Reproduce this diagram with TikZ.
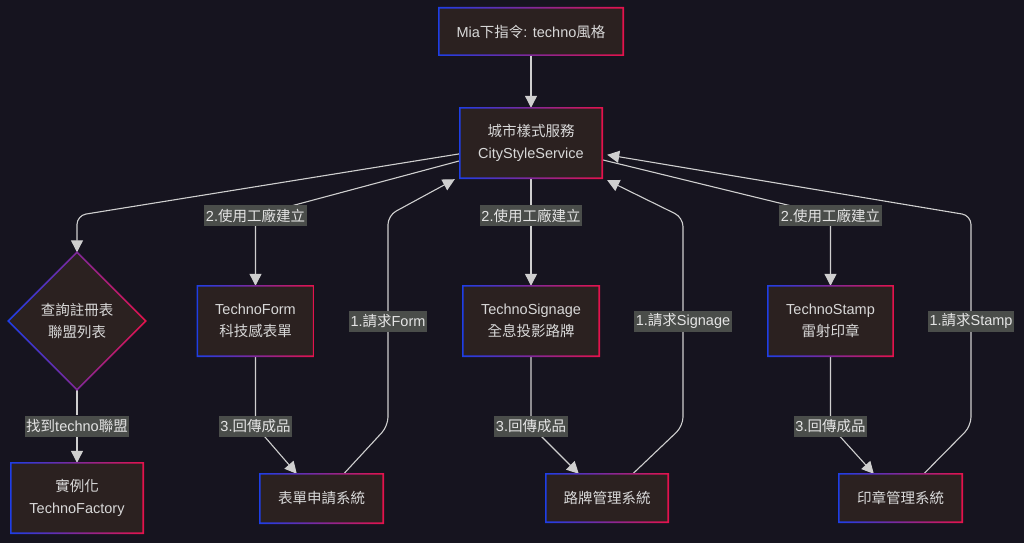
\documentclass[tikz,border=0pt]{standalone}
\usepackage{fontspec}
\setmainfont{Liberation Sans}
\newfontfamily\cjk{Noto Sans CJK TC}
\usetikzlibrary{arrows.meta,shapes.geometric,calc}
\definecolor{bgc}{HTML}{16141F}
\definecolor{nodefill}{HTML}{2B2120}
\definecolor{ntext}{HTML}{D8D8D8}
\definecolor{lblfill}{HTML}{4A4D4A}
\definecolor{ltext}{HTML}{E4E4E4}
\definecolor{edgecol}{HTML}{CFCFCF}
\definecolor{gblue}{HTML}{1E3EE6}
\definecolor{gred}{HTML}{E5124C}
\pgfdeclarelayer{bg}
\pgfdeclarelayer{edges}
\pgfsetlayers{bg,edges,main}
\newcommand\myframe[1]{%
  \shade[left color=gblue,right color=gred,even odd rule]
    ($(#1.south west)+(-0.8,0.8)$) rectangle ($(#1.north east)+(0.8,-0.8)$)
    ($(#1.south west)+(0.8,-0.8)$) rectangle ($(#1.north east)+(-0.8,0.8)$);}
\newcommand\mydframe[1]{%
  \shade[left color=gblue,right color=gred,even odd rule]
    ($(#1.north)+(0,-1.1)$) -- ($(#1.east)+(1.1,0)$) -- ($(#1.south)+(0,1.1)$) -- ($(#1.west)+(-1.1,0)$) -- cycle
    ($(#1.north)+(0,1.1)$) -- ($(#1.east)+(-1.1,0)$) -- ($(#1.south)+(0,-1.1)$) -- ($(#1.west)+(1.1,0)$) -- cycle;}
\tikzset{
  box/.style={fill=nodefill, text=ntext, align=center, inner sep=0pt,
    font=\fontsize{14.5}{22}\selectfont},
  lbl/.style={fill=lblfill, text=ltext, inner xsep=1.5pt, inner ysep=0pt,
    minimum height=21pt, font=\fontsize{14.5}{17}\selectfont},
  edge/.style={draw=edgecol, line width=1.1pt, rounded corners=9pt},
  arr/.style={edge, -{Triangle[length=12pt,width=12pt]}},
}
\begin{document}
\begin{tikzpicture}[x=1pt,y=-1pt]
\begin{pgfonlayer}{bg}
\fill[bgc] (0,0) rectangle (1024,543);
\end{pgfonlayer}
\useasboundingbox (0,0) rectangle (1024,543);

% nodes
\node[box, minimum width=184pt, minimum height=47pt] (top) at (531,31.5) {Mia{\cjk 下指令}: techno{\cjk 風格}};
\node[box, minimum width=142pt, minimum height=70pt] (city) at (531,143) {{\cjk 城市樣式服務}\\CityStyleService};
\node[box, shape=diamond, minimum width=137pt, minimum height=137pt] (dia) at (77,321) {{\cjk 查詢註冊表}\\{\cjk 聯盟列表}};
\node[box, minimum width=132pt, minimum height=70pt] (fac) at (77,498) {{\cjk 實例化}\\TechnoFactory};
\node[box, minimum width=116pt, minimum height=70pt] (form) at (255.5,321) {TechnoForm\\{\cjk 科技感表單}};
\node[box, minimum width=136pt, minimum height=70pt] (sig) at (531,321) {TechnoSignage\\{\cjk 全息投影路牌}};
\node[box, minimum width=125pt, minimum height=70pt] (stamp) at (830.5,321) {TechnoStamp\\{\cjk 雷射印章}};
\node[box, minimum width=123pt, minimum height=49pt] (sys1) at (321.5,498.5) {{\cjk 表單申請系統}};
\node[box, minimum width=122pt, minimum height=48pt] (sys2) at (607,498) {{\cjk 路牌管理系統}};
\node[box, minimum width=123pt, minimum height=48pt] (sys3) at (900.5,498) {{\cjk 印章管理系統}};

\myframe{top}\myframe{city}\myframe{fac}\myframe{form}\myframe{sig}\myframe{stamp}
\myframe{sys1}\myframe{sys2}\myframe{sys3}
\mydframe{dia}

% edge labels
\node[lbl] (lf) at (77,426) {{\cjk 找到}techno{\cjk 聯盟}};
\node[lbl] (l2a) at (255.5,215.5) {2.{\cjk 使用工廠建立}};
\node[lbl] (l2b) at (531,215.5) {2.{\cjk 使用工廠建立}};
\node[lbl] (l2c) at (830.5,215.5) {2.{\cjk 使用工廠建立}};
\node[lbl] (l3a) at (255.5,426) {3.{\cjk 回傳成品}};
\node[lbl] (l3b) at (531,426) {3.{\cjk 回傳成品}};
\node[lbl] (l3c) at (830.5,426) {3.{\cjk 回傳成品}};
\node[lbl] (l1a) at (388,321) {1.{\cjk 請求}Form};
\node[lbl] (l1b) at (683,321) {1.{\cjk 請求}Signage};
\node[lbl] (l1c) at (971,321) {1.{\cjk 請求}Stamp};

% edges
\begin{pgfonlayer}{edges}
\draw[arr] (top.south) -- (city.north);
\draw[arr] ($(city.north west)+(0,46)$) -- (dia.north |- l2a) -- (dia.north);
\draw[arr] (dia.south) -- (lf) -- (fac.north);
\draw[arr] ($(city.north west)+(0,53)$) -- (l2a.center) -- (form.north);
\draw[arr] (city.south) -- (l2b) -- (sig.north);
\draw[arr] ($(city.north east)+(0,52)$) -- (l2c.center) -- (stamp.north);
\draw[arr] (form.south) -- (l3a.center) -- ($(sys1.north west)+(37,0)$);
\draw[arr] (sig.south) -- (l3b.center) -- ($(sys2.north west)+(33,0)$);
\draw[arr] (stamp.south) -- (l3c.center) -- ($(sys3.north west)+(35,0)$);
\draw[arr] ($(sys1.north west)+(84,0)$) -- (l1a |- l3a) -- (l1a.center) -- (l1a |- l2a) -- ($(city.south west)+(-5,1)$);
\draw[arr] ($(sys2.north west)+(87,0)$) -- (l1b |- l3b) -- (l1b.center) -- ($(l1b |- l2b)+(0,2)$) -- ($(city.south east)+(5,2)$);
\draw[arr] ($(sys3.north west)+(85,0)$) -- (l1c |- l3c) -- (l1c.center) -- (l1c |- l2c) -- ($(city.north east)+(5,47)$);
\end{pgfonlayer}
\end{tikzpicture}
\end{document}
